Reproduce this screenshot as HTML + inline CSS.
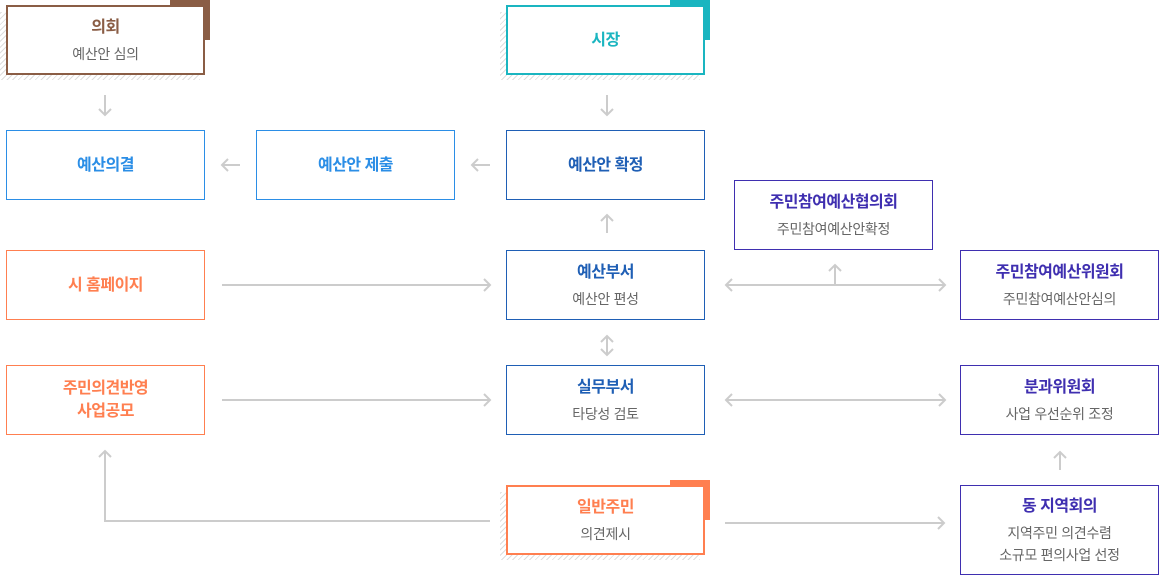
<!DOCTYPE html>
<html><head><meta charset="utf-8"><style>
body{margin:0;width:1160px;height:575px;position:relative;background:#fff;font-family:"Liberation Sans","Noto Sans CJK KR",sans-serif;overflow:hidden}
.b{position:absolute;box-sizing:border-box;background:#fff;border:1px solid;display:flex;flex-direction:column;justify-content:center;align-items:center;text-align:center}
.t{font-size:16px;font-weight:bold;line-height:23px;letter-spacing:-0.5px}
.s{font-size:14px;color:#666;line-height:22px;margin-top:4px;letter-spacing:-0.3px}
.h{position:absolute;background:repeating-linear-gradient(-45deg,#ddd 0 1px,transparent 1px 4px)}
.c{position:absolute;width:40px;height:40px}
svg{position:absolute;left:0;top:0}
</style></head><body>
<div class="h" style="left:0;top:12px;width:200px;height:68px"></div>
<div class="c" style="left:170px;top:0;background:#8a5d45"></div>
<div class="b" style="left:6px;top:5px;width:199px;height:70px;border:2px solid #8a5d45"><div class="t" style="color:#8a5d45">의회</div><div class="s">예산안 심의</div></div>

<div class="h" style="left:500px;top:12px;width:200px;height:68px"></div>
<div class="c" style="left:670px;top:0;background:#1ab5c0"></div>
<div class="b" style="left:506px;top:5px;width:199px;height:70px;border:2px solid #1ab5c0"><div class="t" style="color:#1ab5c0">시장</div></div>

<div class="b" style="left:6px;top:130px;width:199px;height:70px;border-color:#2b8ee6"><div class="t" style="color:#2b8ee6">예산의결</div></div>
<div class="b" style="left:256px;top:130px;width:199px;height:70px;border-color:#2b8ee6"><div class="t" style="color:#2b8ee6">예산안 제출</div></div>
<div class="b" style="left:506px;top:130px;width:199px;height:70px;border-color:#1f5fb5"><div class="t" style="color:#1f5fb5">예산안 확정</div></div>

<div class="b" style="left:734px;top:180px;width:199px;height:70px;border-color:#3f2fb0"><div class="t" style="color:#3f2fb0">주민참여예산협의회</div><div class="s">주민참여예산안확정</div></div>

<div class="b" style="left:6px;top:250px;width:199px;height:70px;border-color:#ff7f50"><div class="t" style="color:#ff7f50">시 홈페이지</div></div>
<div class="b" style="left:506px;top:250px;width:199px;height:70px;border-color:#1f5fb5"><div class="t" style="color:#1f5fb5">예산부서</div><div class="s">예산안 편성</div></div>
<div class="b" style="left:960px;top:250px;width:199px;height:70px;border-color:#3f2fb0"><div class="t" style="color:#3f2fb0">주민참여예산위원회</div><div class="s">주민참여예산안심의</div></div>

<div class="b" style="left:6px;top:365px;width:199px;height:70px;border-color:#ff7f50"><div class="t" style="color:#ff7f50">주민의견반영<br>사업공모</div></div>
<div class="b" style="left:506px;top:365px;width:199px;height:70px;border-color:#1f5fb5"><div class="t" style="color:#1f5fb5">실무부서</div><div class="s">타당성 검토</div></div>
<div class="b" style="left:960px;top:365px;width:199px;height:70px;border-color:#3f2fb0"><div class="t" style="color:#3f2fb0">분과위원회</div><div class="s">사업 우선순위 조정</div></div>

<div class="h" style="left:500px;top:492px;width:200px;height:68px"></div>
<div class="c" style="left:670px;top:480px;background:#ff7f50"></div>
<div class="b" style="left:506px;top:485px;width:199px;height:70px;border:2px solid #ff7f50"><div class="t" style="color:#ff7f50">일반주민</div><div class="s">의견제시</div></div>
<div class="b" style="left:960px;top:485px;width:199px;height:90px;border-color:#3f2fb0"><div class="t" style="color:#3f2fb0">동 지역회의</div><div class="s">지역주민 의견수렴<br>소규모 편의사업 선정</div></div>

<svg width="1160" height="575" fill="none" stroke="#ccc" stroke-width="2">
<path d="M105 95V115M99 109L105 115L111 109"/>
<path d="M607 95V115M601 109L607 115L613 109"/>
<path d="M240 165H222M228 159L222 165L228 171"/>
<path d="M490 165H472M478 159L472 165L478 171"/>
<path d="M607 233V215M601 221L607 215L613 221"/>
<path d="M222 285H490M484 279L490 285L484 291"/>
<path d="M726 285H945M732 279L726 285L732 291M939 279L945 285L939 291M835 285V265M829 271L835 265L841 271"/>
<path d="M607 336V355M601 342L607 336L613 342M601 349L607 355L613 349"/>
<path d="M222 400H490M484 394L490 400L484 406"/>
<path d="M726 400H945M732 394L726 400L732 406M939 394L945 400L939 406"/>
<path d="M1060 470V452M1054 458L1060 452L1066 458"/>
<path d="M490 521H105V451M99 457L105 451L111 457"/>
<path d="M725 523H944M938 517L944 523L938 529"/>
</svg>
</body></html>
